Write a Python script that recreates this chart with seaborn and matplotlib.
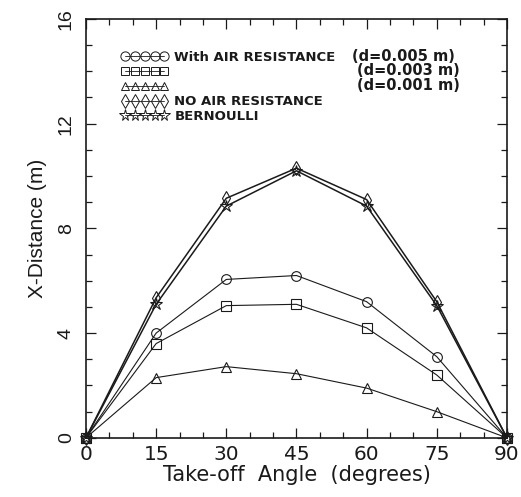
import matplotlib
matplotlib.use("Agg")
import matplotlib.pyplot as plt
import seaborn as sns
import numpy as np
import pandas as pd
from matplotlib.lines import Line2D
from matplotlib.ticker import MultipleLocator

# ---- data ----
angles = [0, 15, 30, 45, 60, 75, 90]
air_d005 = [0, 4.0, 6.05, 6.2, 5.2, 3.1, 0]
air_d003 = [0, 3.6, 5.05, 5.1, 4.2, 2.4, 0]
air_d001 = [0, 2.3, 2.72, 2.45, 1.9, 1.0, 0]
no_air = [0, 5.35, 9.15, 10.3, 9.1, 5.2, 0]
bernoulli = [0, 5.1, 8.85, 10.2, 8.85, 5.05, 0]

legend_labels = ["With AIR RESISTANCE", "", "", "NO AIR RESISTANCE", "BERNOULLI"]
d_labels = ["(d=0.005 m)", "(d=0.003 m)", "(d=0.001 m)"]
xticks = [0, 15, 30, 45, 60, 75, 90]
yticks = [0, 4, 8, 12, 16]

sns.set_theme(style="ticks")
plt.rcParams["font.family"] = ["DejaVu Sans"]
plt.rcParams.update({"text.color": "k", "axes.labelcolor": "k",
                     "xtick.color": "k", "ytick.color": "k"})

fig = plt.figure(figsize=(5.21, 4.97), dpi=100)
ax = fig.add_axes([0.165, 0.119, 0.808, 0.843])

series = [
    (air_d005, "o", 7, 0.8),
    (air_d003, "s", 6.5, 0.8),
    (air_d001, "^", 6.5, 0.8),
    (no_air, "d", 7, 1.1),
    (bernoulli, "*", 9, 1.1),
]
for vals, mk, ms, lw in series:
    sns.lineplot(x=angles, y=vals, ax=ax, color="k", marker=mk, markersize=ms,
                 markerfacecolor="none", markeredgecolor="k", markeredgewidth=0.8,
                 linewidth=lw, legend=False, clip_on=False, zorder=3)

ax.set_xlim(0, 90)
ax.set_ylim(0, 16)
ax.set_xticks(xticks)
ax.set_yticks(yticks)
ax.xaxis.set_minor_locator(MultipleLocator(5))
ax.yaxis.set_minor_locator(MultipleLocator(1))
ax.tick_params(which="both", direction="in", top=True, right=True, width=0.9, color="k")
ax.tick_params(which="major", length=7)
ax.tick_params(which="minor", length=4.5)
ax.tick_params(axis="x", labelsize=14.5, pad=5)
ax.tick_params(axis="y", labelsize=14, pad=8, labelrotation=90)
for lab in ax.get_yticklabels():
    lab.set_fontfamily("Liberation Sans")
    lab.set_va("center")
for s in ax.spines.values():
    s.set_linewidth(1.2)
    s.set_color("k")

ax.set_xlabel("Take-off  Angle  (degrees)", fontsize=15, labelpad=1)
ax.set_ylabel("X-Distance (m)", fontsize=15, family="Liberation Sans", labelpad=8)

handles = [Line2D([], [], color="k", marker=mk, markersize=ms * 0.95, markerfacecolor="none",
                  markeredgewidth=0.7, linewidth=0.6)
           for _, mk, ms, _ in series]
leg = ax.legend(handles, legend_labels, loc="upper left", bbox_to_anchor=(0.083, 0.924),
                frameon=False, numpoints=5, handlelength=3.6, handletextpad=0.45,
                labelspacing=0.14, borderpad=0, borderaxespad=0,
                prop={"size": 9.5, "family": "DejaVu Sans", "weight": "bold"})

fig.canvas.draw()
inv = ax.transAxes.inverted()
d_x = [0.632, 0.645, 0.645]
for hnd, dl, xx in zip(leg.legend_handles[:3], d_labels, d_x):
    bb = hnd.get_window_extent(fig.canvas.get_renderer())
    yc = inv.transform(((bb.x0 + bb.x1) / 2, (bb.y0 + bb.y1) / 2))[1]
    ax.text(xx, yc, dl, transform=ax.transAxes, ha="left", va="center",
            fontsize=10.5, fontweight="bold")

fig.savefig("out.png", dpi=100)
